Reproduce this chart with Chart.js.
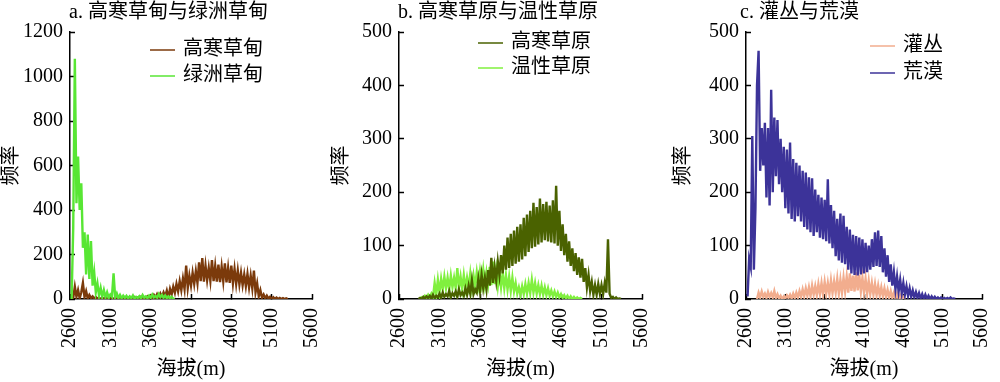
<!DOCTYPE html>
<html>
<head>
<meta charset="utf-8">
<script src="https://cdn.jsdelivr.net/npm/chart.js@4.4.1/dist/chart.umd.min.js"></script>
<style>
html, body { margin: 0; padding: 0; background: #fff; width: 1000px; height: 382px; overflow: hidden; position: relative; }
canvas { position: absolute; top: 0; }
</style>
</head>
<body>
<canvas id="chartA" width="350" height="382" style="left:0px"></canvas>
<canvas id="chartB" width="350" height="382" style="left:330px"></canvas>
<canvas id="chartC" width="360" height="382" style="left:660px"></canvas>
<script>
// altitude bins: every series is sampled each 20 m from its own start altitude
var STEP = 20;

// a. 高寒草甸 (start 2620 m)
var alpineMeadowStart = 2620;
var alpineMeadow = [
    0, 5, 55, 10, 40, 3, 30, 72, 8, 35,
    2, 18, 4, 12, 1, 9, 2, 6, 0, 5,
    1, 7, 0, 4, 2, 6, 0, 3, 1, 5,
    0, 4, 2, 8, 1, 5, 0, 6, 2, 9,
    3, 7, 1, 10, 2, 8, 4, 12, 3, 15,
    4, 18, 6, 22, 8, 25, 10, 30, 12, 38,
    6, 45, 20, 55, 28, 68, 35, 80, 40, 92,
    45, 150, 50, 105, 60, 118, 68, 125, 72, 165,
    80, 184, 78, 150, 85, 140, 82, 175, 80, 148,
    78, 155, 76, 145, 80, 160, 75, 140, 72, 150,
    70, 135, 68, 128, 66, 118, 62, 110, 58, 112,
    52, 105, 48, 128, 30, 70, 12, 40, 6, 20,
    3, 15, 2, 10, 1, 8, 0, 6, 0, 5,
    0, 4, 0, 3, 0
];
// a. 绿洲草甸 (start 2620 m)
var oasisMeadowStart = 2620;
var oasisMeadow = [
    0, 320, 1080, 430, 640, 400, 520, 230, 300, 110,
    290, 90, 260, 60, 120, 30, 70, 15, 50, 10,
    40, 8, 30, 5, 20, 10, 115, 8, 25, 4,
    18, 3, 15, 5, 14, 3, 12, 4, 16, 2,
    10, 5, 13, 3, 18, 6, 12, 4, 15, 5,
    20, 7, 14, 6, 22, 8, 18, 5, 16, 4,
    12, 3, 10, 1, 0
];
// b. 高寒草原 (start 2840 m)
var alpineSteppeStart = 2840;
var alpineSteppe = [
    0, 2, 0, 4, 1, 5, 2, 6, 1, 8,
    2, 6, 3, 10, 2, 12, 4, 9, 5, 15,
    3, 11, 6, 14, 4, 18, 7, 12, 6, 20,
    8, 25, 10, 35, 9, 18, 12, 38, 15, 45,
    20, 40, 18, 54, 25, 77, 30, 60, 35, 70,
    45, 82, 48, 100, 55, 115, 58, 122, 62, 128,
    66, 135, 70, 140, 74, 152, 80, 158, 88, 165,
    95, 180, 98, 172, 102, 188, 106, 178, 110, 182,
    108, 175, 106, 185, 104, 212, 100, 165, 90, 140,
    82, 122, 70, 108, 62, 95, 52, 86, 45, 78,
    40, 75, 32, 58, 22, 45, 15, 32, 8, 26,
    8, 28, 10, 26, 9, 30, 12, 112, 10, 2,
    4, 0, 3, 0, 1, 0
];
// b. 温性草原 (start 2860 m)
var temperateSteppeStart = 2860;
var temperateSteppe = [
    0, 3, 1, 6, 2, 8, 3, 10, 4, 30,
    8, 36, 12, 38, 18, 42, 20, 40, 18, 44,
    22, 40, 20, 58, 22, 42, 18, 45, 20, 40,
    22, 48, 20, 44, 24, 50, 26, 52, 28, 55,
    26, 50, 28, 60, 26, 70, 28, 55, 24, 50,
    22, 48, 20, 45, 18, 42, 15, 40, 14, 30,
    10, 22, 8, 24, 9, 28, 10, 30, 11, 36,
    12, 30, 10, 26, 9, 25, 8, 22, 7, 20,
    6, 16, 5, 14, 4, 12, 3, 9, 2, 7,
    1, 6, 0, 5, 0, 4, 0, 3, 0, 2,
    0
];
// c. 灌丛 (start 2740 m)
var shrubStart = 2740;
var shrub = [
    0, 12, 3, 14, 4, 10, 2, 13, 4, 11,
    3, 15, 2, 9, 1, 6, 0, 5, 1, 7,
    2, 8, 1, 10, 2, 12, 3, 15, 4, 18,
    5, 20, 6, 22, 5, 25, 8, 24, 7, 28,
    9, 30, 8, 32, 10, 30, 9, 35, 11, 33,
    12, 38, 10, 36, 12, 40, 14, 42, 12, 48,
    15, 44, 14, 50, 16, 45, 14, 40, 12, 38,
    10, 34, 9, 30, 8, 28, 7, 25, 6, 22,
    5, 20, 4, 17, 3, 15, 2, 12, 1, 10,
    0, 7, 0, 4, 0
];
// c. 荒漠 (start 2620 m)
var desertStart = 2620;
var desert = [
    5, 75, 60, 305, 55, 170, 400, 465, 240, 320,
    250, 330, 190, 320, 175, 392, 200, 340, 230, 335,
    215, 300, 200, 285, 170, 280, 160, 293, 150, 262,
    145, 255, 155, 250, 145, 240, 135, 237, 130, 228,
    125, 226, 118, 205, 125, 195, 115, 190, 112, 186,
    108, 224, 104, 176, 95, 165, 80, 150, 72, 160,
    68, 156, 65, 135, 55, 130, 48, 120, 45, 118,
    44, 115, 46, 112, 48, 105, 50, 100, 55, 112,
    60, 125, 62, 128, 60, 118, 50, 95, 42, 82,
    32, 65, 25, 50, 18, 42, 14, 36, 11, 30,
    8, 24, 6, 20, 4, 16, 3, 13, 2, 11,
    1, 9, 0, 8, 0, 6, 0, 5, 0, 4,
    0, 3, 0, 3, 0, 2, 0, 2, 0, 3,
    0, 1, 0
];

var xTicks = [2600, 3100, 3600, 4100, 4600, 5100, 5600];

var SERIF = "'Liberation Serif', 'Times New Roman', serif";
var MIXED = "'Liberation Serif', 'Noto Sans CJK SC', serif";

function toPoints(start, values) {
    return values.map(function (v, i) {
        return { x: start + i * STEP, y: v };
    });
}

function series(label, color, start, values, order) {
    return {
        label: label,
        data: toPoints(start, values),
        borderColor: color,
        borderWidth: 2.4,
        borderJoinStyle: 'miter',
        pointRadius: 0,
        tension: 0,
        fill: false,
        order: order
    };
}

// title above the plot and a two-line legend inside it
var panelText = {
    id: 'panelText',
    afterDraw: function (chart, args, opts) {
        var ctx = chart.ctx;
        var area = chart.chartArea;
        ctx.save();
        ctx.font = '20px ' + MIXED;
        ctx.fillStyle = '#000';
        ctx.textBaseline = 'middle';
        ctx.textAlign = 'left';
        ctx.fillText(opts.title, area.left + opts.titleDx, 13);
        chart.data.datasets.forEach(function (ds, i) {
            var y = opts.legendY + i * opts.legendGap;
            ctx.strokeStyle = ds.borderColor;
            ctx.lineWidth = 1.5;
            ctx.beginPath();
            ctx.moveTo(opts.legendX, y);
            ctx.lineTo(opts.legendX + 25, y);
            ctx.stroke();
            ctx.fillText(ds.label, opts.legendX + 33, y);
        });
        ctx.restore();
    }
};

function makeChart(id, datasets, yMax, yStep, yWidth, padding, text) {
    var ctx = document.getElementById(id).getContext('2d');
    return new Chart(ctx, {
        type: 'line',
        data: { datasets: datasets },
        plugins: [panelText],
        options: {
            responsive: false,
            animation: false,
            events: [],
            layout: { padding: padding },
            plugins: {
                legend: { display: false },
                tooltip: { enabled: false },
                title: { display: false },
                panelText: text
            },
            scales: {
                x: {
                    type: 'linear',
                    min: 2600,
                    max: 5600,
                    afterBuildTicks: function (scale) {
                        scale.ticks = xTicks.map(function (v) { return { value: v }; });
                    },
                    ticks: {
                        autoSkip: false,
                        minRotation: 90,
                        maxRotation: 90,
                        padding: 14,
                        color: '#000',
                        font: { family: SERIF, size: 20 },
                        callback: function (v) { return String(v); }
                    },
                    grid: { display: true, drawOnChartArea: false, drawTicks: true, tickLength: -5, tickColor: '#000', tickWidth: 1.5 },
                    border: { display: true, color: '#000', width: 1.5 },
                    title: { display: true, text: '海拔(m)', color: '#000', font: { family: MIXED, size: 20 }, padding: 0 },
                    afterFit: function (scale) { scale.height = 83; }
                },
                y: {
                    type: 'linear',
                    min: 0,
                    max: yMax,
                    ticks: {
                        stepSize: yStep,
                        padding: 12,
                        color: '#000',
                        font: { family: SERIF, size: 20 },
                        callback: function (v) { return String(v); }
                    },
                    grid: { display: true, drawOnChartArea: false, drawTicks: true, tickLength: -5, tickColor: '#000', tickWidth: 1.5 },
                    border: { display: true, color: '#000', width: 1.5 },
                    title: { display: true, text: '频率', color: '#000', font: { family: MIXED, size: 20 }, padding: 0 },
                    afterFit: function (scale) { scale.width = yWidth; }
                }
            }
        }
    });
}

makeChart('chartA', [
    series('高寒草甸', '#7b3a0b', alpineMeadowStart, alpineMeadow, 1),
    series('绿洲草甸', '#58e634', oasisMeadowStart, oasisMeadow, 0)
], 1200, 200, 70, { left: 0, top: 32, right: 27, bottom: 0 },
    { title: 'a. 高寒草甸与绿洲草甸', titleDx: -1, legendX: 150, legendY: 50, legendGap: 26 });

makeChart('chartB', [
    series('高寒草原', '#4a6200', alpineSteppeStart, alpineSteppe, 0),
    series('温性草原', '#80f03e', temperateSteppeStart, temperateSteppe, 1)
], 500, 100, 69, { left: 0, top: 32, right: 27, bottom: 0 },
    { title: 'b. 高寒草原与温性草原', titleDx: -1, legendX: 148, legendY: 43, legendGap: 25 });

makeChart('chartC', [
    series('灌丛', '#f2ad8e', shrubStart, shrub, 1),
    series('荒漠', '#3c3399', desertStart, desert, 0)
], 500, 100, 74, { left: 12, top: 32, right: 25, bottom: 0 },
    { title: 'c. 灌丛与荒漠', titleDx: -6, legendX: 210, legendY: 46, legendGap: 27 });
</script>
</body>
</html>
